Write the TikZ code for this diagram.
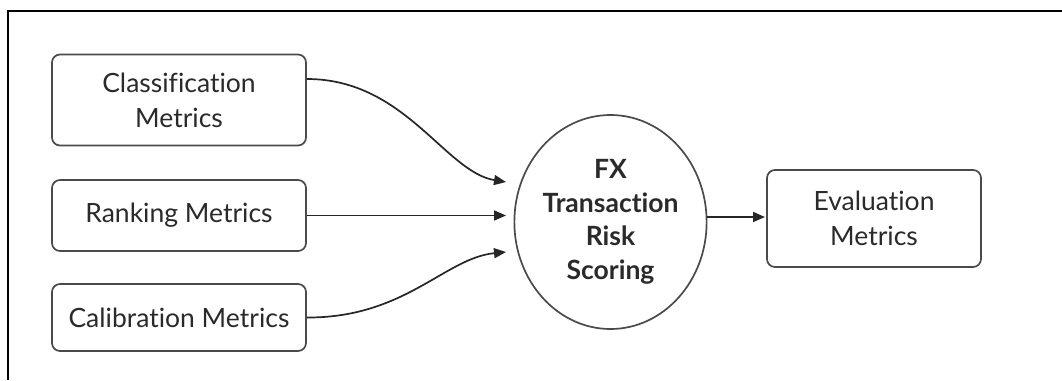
\documentclass[tikz,border=0pt]{standalone}
\usepackage{fontspec}
\setmainfont{Lato}[Ligatures=NoCommon]
\usetikzlibrary{arrows.meta,calc,shapes.geometric}
\definecolor{inkgray}{HTML}{2A2A2A}
\definecolor{edgegray}{HTML}{4A4A4A}
\begin{document}
\begin{tikzpicture}[x=1pt,y=-1pt,
  metricbox/.style={draw=edgegray,line width=1.7pt,rounded corners=8pt,fill=white,
    text=inkgray,align=center,font=\fontsize{26.5}{35}\selectfont,
    minimum width=254pt,inner sep=0pt},
  hub/.style={ellipse,draw=edgegray,line width=1.7pt,fill=white,text=inkgray,
    align=center,font=\bfseries\fontsize{26.5}{33.5}\selectfont,
    minimum width=181pt,minimum height=214pt,inner sep=0pt},
  flow/.style={draw=black!85,line width=1.7pt,-{Triangle[length=12pt,width=10pt]}}]
  \useasboundingbox (0,0) rectangle (1062,380);
  % frame (top and left edges)
  \draw[line width=1.6pt] (8,380) -- (8,11) -- (1062,11);

  % input boxes
  \node[metricbox,minimum height=91pt] (cls) at (179,100) {Classification\\Metrics};
  \node[metricbox,minimum height=71pt] (rnk) at (179,215.5) {Ranking Metrics};
  \node[metricbox,minimum height=67pt] (cal) at (179,317.5) {Calibration Metrics};

  % scoring hub and output box
  \node[hub] (fx) at (610.5,222) {FX\\Transaction\\Risk\\Scoring};
  \node[metricbox,minimum width=214pt,minimum height=97pt] (ev) at (874,218.5) {Evaluation\\Metrics};

  % arrow tips in front of the hub
  \coordinate (in1) at (506,182);
  \coordinate (in2) at (506,215.5);
  \coordinate (in3) at (506,252);
  \coordinate (out) at (765,217);

  % connectors
  \draw[flow] ([yshift=21pt]cls.east) .. controls (405,79) and (445,172) .. (in1);
  \draw[flow] (rnk.east) -- (in2);
  \draw[flow] (cal.east) .. controls (405,318) and (445,258) .. (in3);
  \draw[flow] (fx.east |- out) -- (out);
\end{tikzpicture}
\end{document}
